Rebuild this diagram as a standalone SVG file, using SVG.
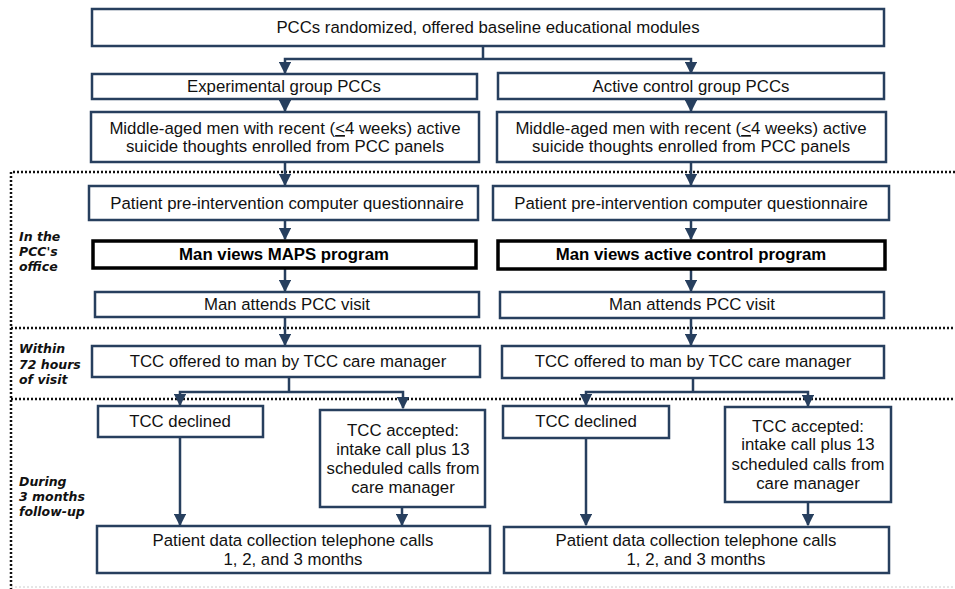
<svg xmlns="http://www.w3.org/2000/svg" width="955" height="589" viewBox="0 0 955 589">
<defs>
<marker id="ah" viewBox="0 0 10 10" refX="9" refY="5" markerWidth="5" markerHeight="5" orient="auto" markerUnits="strokeWidth">
<path d="M0,0 L10,5 L0,10 z" fill="#273f5e"/>
</marker>
<style>
.b{fill:#fff;stroke:#273f5e;stroke-width:2.5}
.k{fill:#fff;stroke:#000;stroke-width:3.5}
.t{font-family:"Liberation Sans",Arial,sans-serif;font-size:16.8px;fill:#111;text-anchor:middle}
.tb{font-family:"Liberation Sans",Arial,sans-serif;font-size:16.8px;font-weight:bold;fill:#000;text-anchor:middle}
.l{font-family:"DejaVu Sans",Verdana,sans-serif;font-size:12.5px;font-weight:bold;font-style:italic;fill:#111}
.c{fill:none;stroke:#273f5e;stroke-width:2.5;marker-end:url(#ah)}
.cn{fill:none;stroke:#273f5e;stroke-width:2.5}
.d{fill:none;stroke:#111;stroke-width:2.5;stroke-dasharray:2 2}
</style>
</defs>
<rect width="955" height="589" fill="#fff"/>
<g id="phases">
<path class="d" d="M955,172 H11 V589"/>
<path class="d" d="M11,328 H955"/>
<path class="d" d="M11,399 H955"/>
<path d="M11,587 H955" fill="none" stroke="#ccc" stroke-width="1" stroke-dasharray="2 2"/>
<text class="l" x="19"><tspan x="19" y="241">In the</tspan><tspan x="19" y="256">PCC's</tspan><tspan x="19" y="271">office</tspan></text>
<text class="l" x="19"><tspan x="19" y="353">Within</tspan><tspan x="19" y="369">72 hours</tspan><tspan x="19" y="384">of visit</tspan></text>
<text class="l" x="19"><tspan x="19" y="486">During</tspan><tspan x="19" y="501">3 months</tspan><tspan x="19" y="516">follow-up</tspan></text>
</g>
<g id="connectors">
<path class="cn" d="M483,46 V59"/>
<path class="c" d="M483,59 H285 V73"/>
<path class="c" d="M483,59 H691 V73"/>
<path class="c" d="M285,99 V111"/>
<path class="c" d="M691,99 V111"/>
<path class="c" d="M285,162 V185"/>
<path class="c" d="M691,162 V185"/>
<path class="c" d="M285,220 V239"/>
<path class="c" d="M691,220 V239"/>
<path class="c" d="M285,268 V291"/>
<path class="c" d="M691,269 V291"/>
<path class="c" d="M285,317 V345"/>
<path class="c" d="M691,318 V345"/>
<path class="cn" d="M289,377 V392"/>
<path class="c" d="M289,392 H180 V405"/>
<path class="c" d="M289,392 H403 V408"/>
<path class="cn" d="M693,378 V392"/>
<path class="c" d="M693,392 H586 V405"/>
<path class="c" d="M693,392 H808 V406"/>
<path class="c" d="M180,437 V525"/>
<path class="c" d="M402,507 V525"/>
<path class="c" d="M586,438 V525"/>
<path class="c" d="M808,502 V525"/>
</g>
<g id="n-top"><rect class="b" x="92" y="9" width="792" height="37"/><text class="t" x="488" y="33">PCCs randomized, offered baseline educational modules</text></g>
<g id="n-exp"><rect class="b" x="92" y="74" width="385" height="25"/><text class="t" x="284" y="92">Experimental group PCCs</text></g>
<g id="n-ctl"><rect class="b" x="498" y="73" width="386" height="26"/><text class="t" x="691" y="92">Active control group PCCs</text></g>
<g id="n-men-l"><rect class="b" x="91" y="112" width="388" height="50"/><text class="t"><tspan x="285" y="134">Middle-aged men with recent (<tspan text-decoration="underline">&lt;</tspan>4 weeks) active</tspan><tspan x="285" y="152">suicide thoughts enrolled from PCC panels</tspan></text></g>
<g id="n-men-r"><rect class="b" x="497" y="112" width="389" height="50"/><text class="t"><tspan x="691" y="134">Middle-aged men with recent (<tspan text-decoration="underline">&lt;</tspan>4 weeks) active</tspan><tspan x="691" y="152">suicide thoughts enrolled from PCC panels</tspan></text></g>
<g id="n-pre-l"><rect class="b" x="89" y="186" width="389" height="34"/><text class="t" x="287" y="209">Patient pre-intervention computer questionnaire</text></g>
<g id="n-pre-r"><rect class="b" x="493" y="186" width="396" height="34"/><text class="t" x="691" y="209">Patient pre-intervention computer questionnaire</text></g>
<g id="n-maps"><rect class="k" x="93" y="241" width="383" height="27"/><text class="tb" x="284" y="260">Man views MAPS program</text></g>
<g id="n-actv"><rect class="k" x="498" y="241" width="387" height="28"/><text class="tb" x="691" y="260">Man views active control program</text></g>
<g id="n-visit-l"><rect class="b" x="95" y="292" width="384" height="25"/><text class="t" x="287" y="310">Man attends PCC visit</text></g>
<g id="n-visit-r"><rect class="b" x="500" y="292" width="384" height="26"/><text class="t" x="692" y="310">Man attends PCC visit</text></g>
<g id="n-off-l"><rect class="b" x="92" y="346" width="388" height="31"/><text class="t" x="288" y="367">TCC offered to man by TCC care manager</text></g>
<g id="n-off-r"><rect class="b" x="502" y="346" width="382" height="32"/><text class="t" x="693" y="367">TCC offered to man by TCC care manager</text></g>
<g id="n-dec-l"><rect class="b" x="98" y="406" width="165" height="31"/><text class="t" x="180" y="427">TCC declined</text></g>
<g id="n-acc-l"><rect class="b" x="320" y="410" width="165" height="97"/><text class="t"><tspan x="403" y="436">TCC accepted:</tspan><tspan x="403" y="455">intake call plus 13</tspan><tspan x="403" y="474">scheduled calls from</tspan><tspan x="403" y="493">care manager</tspan></text></g>
<g id="n-dec-r"><rect class="b" x="503" y="406" width="166" height="32"/><text class="t" x="586" y="427">TCC declined</text></g>
<g id="n-acc-r"><rect class="b" x="725" y="407" width="166" height="95"/><text class="t"><tspan x="808" y="432">TCC accepted:</tspan><tspan x="808" y="450">intake call plus 13</tspan><tspan x="808" y="470">scheduled calls from</tspan><tspan x="808" y="489">care manager</tspan></text></g>
<g id="n-data-l"><rect class="b" x="97" y="526" width="393" height="47"/><text class="t"><tspan x="293" y="546">Patient data collection telephone calls</tspan><tspan x="293" y="565">1, 2, and 3 months</tspan></text></g>
<g id="n-data-r"><rect class="b" x="504" y="527" width="385" height="46"/><text class="t"><tspan x="696" y="546">Patient data collection telephone calls</tspan><tspan x="696" y="565">1, 2, and 3 months</tspan></text></g>
</svg>
